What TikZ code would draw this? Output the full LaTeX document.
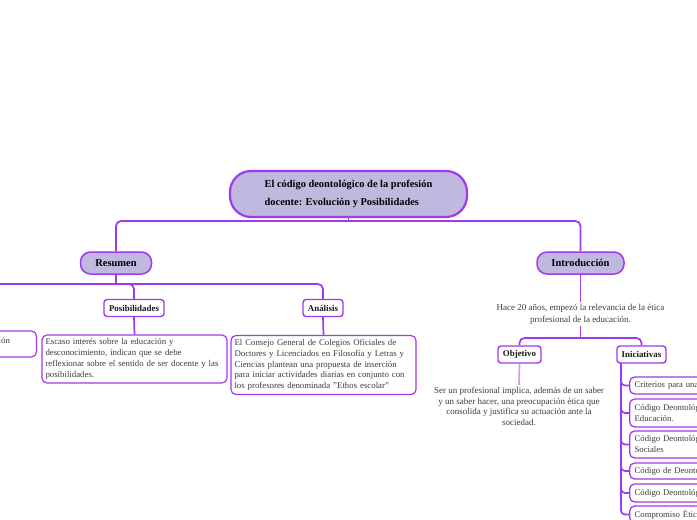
\documentclass[tikz,border=0pt]{standalone}
\usepackage{fontspec}
\setmainfont{Liberation Serif}
\definecolor{vio}{HTML}{A03AEE}
\definecolor{lav}{HTML}{C0B8DE}
\definecolor{txt}{HTML}{3C3C3C}
\definecolor{vlight}{HTML}{D79CE8}
\begin{document}
\begin{tikzpicture}[x=1pt,y=-1pt,
  conn/.style={draw=vio, line width=1.7pt},
  connlight/.style={draw=vlight, line width=1.7pt},
  rootbox/.style={draw=vio, fill=lav, line width=2.2pt, rounded corners=21pt,
    minimum width=237pt, minimum height=46pt, inner sep=0pt, align=left,
    font=\fontsize{10.4}{18}\selectfont\bfseries, text=black},
  mainbox/.style={draw=vio, fill=lav, line width=1.5pt, rounded corners=10pt,
    minimum height=22pt, inner sep=0pt, font=\fontsize{10.5}{12}\selectfont\bfseries, text=black},
  subbox/.style={draw=vio, fill=white, line width=1.4pt, rounded corners=3pt,
    minimum height=17pt, inner sep=0pt, font=\fontsize{8.9}{10}\selectfont\bfseries, text=black!90},
  txtbox/.style={draw=vio, fill=white, line width=1.2pt, rounded corners=5pt,
    inner xsep=3.5pt, inner ysep=0pt, align=left,
    font=\fontsize{8.8}{10.8}\selectfont, text=txt},
  childbox/.style={draw=vio, fill=white, line width=1.3pt, rounded corners=5pt,
    inner xsep=5pt, inner ysep=0pt, align=left, text width=130pt, anchor=west,
    font=\fontsize{8.7}{11}\selectfont, text=txt},
  plaintext/.style={inner sep=2pt, align=center, text=txt}
]
\useasboundingbox (0,0) rectangle (697,520);
\fill[white] (0,0) rectangle (697,520);
\clip (0,0) rectangle (697,520);

% nodes
\node[rootbox] (root) at (348.5,194) {El código deontológico de la profesión\\docente: Evolución y Posibilidades};
\node[mainbox, minimum width=71pt] (resumen) at (116,263) {Resumen};
\node[mainbox, minimum width=87pt] (intro) at (580.5,263) {Introducción};

\node[subbox, minimum width=60pt] (posib) at (134,308) {Posibilidades};
\node[subbox, minimum width=40pt] (analisis) at (323,308) {Análisis};

\node[txtbox, text width=178pt, minimum height=48pt] (posibText) at (134.5,359)
  {Escaso interés sobre la educación y\\desconocimiento, indican que se debe\\reflexionar sobre el sentido de ser docente y las\\posibilidades.};
\node[txtbox, text width=178pt, minimum height=59pt] (analisisText) at (323.5,365)
  {El Consejo General de Colegios Oficiales de\\Doctores y Licenciados en Filosofía y Letras y\\Ciencias plantean una propuesta de inserción\\para iniciar actividades diarias en conjunto con\\los profesores denominada "Ethos escolar"};

\node[txtbox, text width=180pt, minimum height=26pt, anchor=east] (lbox) at (37,344) {};
\node[inner sep=0pt, anchor=west, font=\fontsize{8.8}{10.8}\selectfont, text=txt] (ltext) at (-1.5,340) {ión};

\node[plaintext, font=\fontsize{9}{12}\selectfont] (introText) at (580.5,314)
  {Hace 20 años, empezó la relevancia de la ética\\profesional de la educación.};

\node[subbox, minimum width=43pt] (objetivo) at (519.5,354.5) {Objetivo};
\node[subbox, minimum width=49pt] (inic) at (641.5,354.5) {Iniciativas};

\node[plaintext, font=\fontsize{9}{10.6}\selectfont] (objText) at (519,406.5)
  {Ser un profesional implica, además de un saber\\y un saber hacer, una preocupación ética que\\consolida y justifica su actuación ante la\\sociedad.};

\node[childbox, minimum height=17pt] (c1) at (629,385.5) {Criterios para una};
\node[childbox, minimum height=28pt] (c2) at (629,413) {Código Deontológico\\Educación.};
\node[childbox, minimum height=27pt] (c3) at (629,444.5) {Código Deontológico\\Sociales};
\node[childbox, minimum height=16pt] (c4) at (629,471) {Código de Deontología};
\node[childbox, minimum height=18pt] (c5) at (629,493) {Código Deontológico};
\node[childbox, minimum height=17pt] (c6) at (629,514.5) {Compromiso Ético};

% junction coordinates
\coordinate (rj) at (348.5,221);
\coordinate (sj) at (116,284);
\coordinate (sl) at (-10,284);
\coordinate (ij) at (580.5,338);
\coordinate (iv) at (621,363);

% connectors
\draw[conn] (root.south) -- (rj);
\draw[conn, rounded corners=5pt] (resumen.north) |- (rj) -| (intro.north);

\draw[conn] (resumen.south) -- (sj);
\draw[conn, rounded corners=5pt] (sl) -| (analisis.north);
\draw[conn, rounded corners=5pt] (sj) -| (posib.north);
\draw[conn] (posib.south) -- (posibText.north);
\draw[conn] (analisis.south) -- (analisisText.north);

\draw[conn] (intro.south) -- (introText.north);
\draw[conn] (introText.south) -- (ij);
\draw[conn, rounded corners=5pt] (objetivo.north) |- (ij) -| (inic.north);
\draw[connlight] (objetivo.south) -- (objText.north);

\foreach \c in {c1,c2,c3,c4,c5,c6}
  \draw[conn, rounded corners=4pt] (iv) |- (\c.west);
\end{tikzpicture}
\end{document}
